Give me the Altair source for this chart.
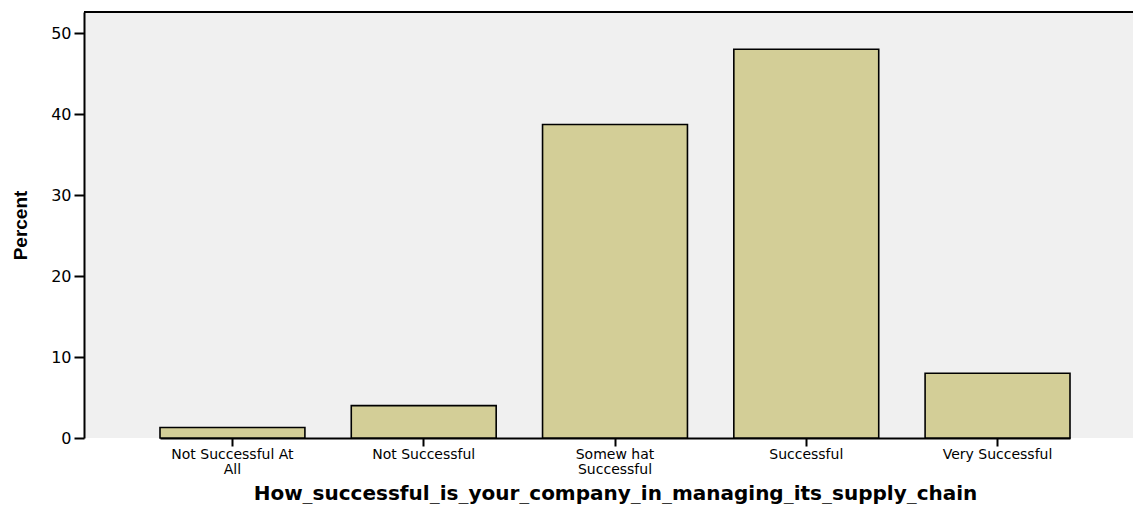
import altair as alt
import pandas as pd

categories = ["Not Successful At|All", "Not Successful", "Somew hat|Successful", "Successful", "Very Successful"]
percent = [1.3, 4.0, 38.7, 48.0, 8.0]
y_ticks = [0, 10, 20, 30, 40, 50]

df = pd.DataFrame({"cat": categories, "pct": percent})

font = "DejaVu Sans"
W = 1049
H = 426

bars = alt.Chart(df).mark_bar(
    color="#d3ce97", stroke="black", strokeWidth=1.6
).encode(
    x=alt.X("cat:N", sort=categories,
            scale=alt.Scale(range=[76, 986], paddingInner=0.2424, paddingOuter=0),
            axis=alt.Axis(title="How_successful_is_your_company_in_managing_its_supply_chain",
                          labelExpr="split(datum.label, '|')", labelAngle=0,
                          labelFont=font, labelFontSize=14, labelColor="black",
                          labelLineHeight=15, labelPadding=1,
                          tickSize=8, tickColor="black", tickWidth=2,
                          domainColor="black", domainWidth=2,
                          titleFont=font, titleFontSize=20, titleFontWeight="bold",
                          titleColor="black", titleBaseline="alphabetic", titleY=61)),
    y=alt.Y("pct:Q", scale=alt.Scale(domain=[0, 52.6], nice=False, zero=True),
            axis=alt.Axis(title="Percent", values=y_ticks,
                          labelFont=font, labelFontSize=16, labelColor="black",
                          labelPadding=3, tickSize=10, tickColor="black", tickWidth=2,
                          domainColor="black", domainWidth=2, grid=False,
                          titleFont="Liberation Sans",
                          titleFontSize=19, titleFontWeight="bold", titleColor="black",
                          titlePadding=20)),
)

top_line = alt.Chart(df).mark_rule(color="black", strokeWidth=2).encode(
    x=alt.value(0), x2=alt.value(W), y=alt.value(0)
)

chart = alt.layer(bars, top_line).properties(
    width=W, height=H,
    autosize=alt.AutoSizeParams(type="none"),
    padding={"left": 76, "top": 4, "right": 0, "bottom": 66},
).configure_view(
    fill="#f0f0f0", stroke=None
)

chart.save("out.html", embed_options={"renderer": "svg", "actions": False})
